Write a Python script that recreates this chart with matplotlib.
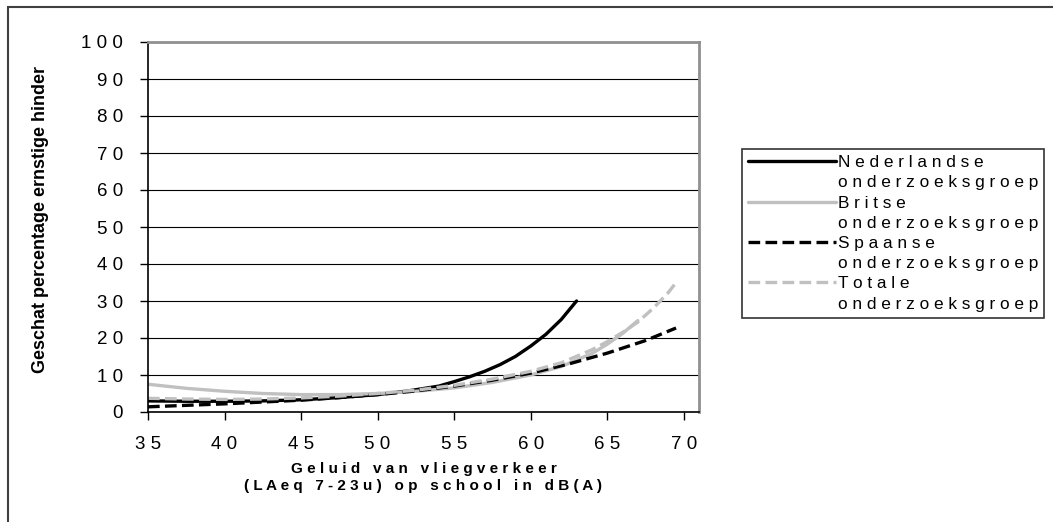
import matplotlib
matplotlib.use("Agg")
import matplotlib.pyplot as plt
from matplotlib.lines import Line2D
from matplotlib.patches import Rectangle

plt.rcParams['font.family'] = ['Liberation Sans', 'DejaVu Sans']

dutch_x = [35, 37.5, 40, 42.5, 45, 47.5, 50, 52, 54, 55, 56, 57, 58, 59, 60, 61, 62, 63]
dutch_y = [3.0, 2.9, 2.9, 3.0, 3.3, 3.9, 4.7, 5.7, 7.0, 8.2, 9.5, 11.0, 12.8, 15.0, 17.8, 21.0, 25.0, 30.0]

brits_x = [35, 37.5, 40, 42.5, 45, 47.5, 50, 52.5, 55, 57.5, 60, 62, 64, 65, 66, 67]
brits_y = [7.5, 6.4, 5.6, 5.0, 4.7, 4.7, 5.0, 5.6, 6.5, 8.0, 10.0, 12.3, 15.8, 18.3, 21.2, 24.7]

spaans_x = [35, 37.5, 40, 42.5, 45, 47.5, 50, 52.5, 55, 57.5, 60, 62.5, 65, 67.5, 69.5]
spaans_y = [1.4, 1.8, 2.2, 2.7, 3.2, 3.9, 4.7, 5.7, 7.0, 8.6, 10.5, 13.0, 15.9, 19.3, 22.7]

totaal_x = [35, 37.5, 40, 42.5, 45, 47.5, 50, 52.5, 55, 57.5, 60, 62, 64, 65, 66, 67, 68, 69, 69.5]
totaal_y = [3.7, 3.5, 3.4, 3.5, 3.8, 4.3, 5.0, 5.9, 7.2, 8.9, 11.0, 13.3, 16.8, 19.0, 21.5, 24.3, 28.0, 32.3, 35.0]

series_names = [("Nederlandse", "onderzoeksgroep"), ("Britse", "onderzoeksgroep"),
                ("Spaanse", "onderzoeksgroep"), ("Totale", "onderzoeksgroep")]
x_ticks = [35, 40, 45, 50, 55, 60, 65, 70]
y_ticks = [0, 10, 20, 30, 40, 50, 60, 70, 80, 90, 100]
x_title = ["Geluid van vliegverkeer", "(LAeq 7-23u) op school in dB(A)"]
y_title = "Geschat percentage ernstige hinder"


def spaced(s):
    return " ".join(s)


GREY = "#c0c0c0"
W, H = 1053, 522
fig = plt.figure(figsize=(W / 100, H / 100), dpi=100)
ax = fig.add_axes([148 / W, (H - 412) / H, 551 / W, 370 / H])

# outer chart border
fig.patches.append(Rectangle((8 / W, -0.1), 1.1, (H - 7) / H + 0.1, transform=fig.transFigure,
                             fill=False, edgecolor="#404040", lw=1.5))

lw = 2.4
dash = (3.5, 1.6)
l1, = ax.plot(dutch_x, dutch_y, color="black", lw=lw, solid_capstyle="round")
l2, = ax.plot(brits_x, brits_y, color=GREY, lw=lw, solid_capstyle="round")
l3, = ax.plot(spaans_x, spaans_y, color="black", lw=lw, dashes=dash, dash_capstyle="butt")
l4, = ax.plot(totaal_x, totaal_y, color=GREY, lw=lw, dashes=dash, dash_capstyle="butt")

ax.set_xlim(35, 71)
ax.set_ylim(0, 100)
ax.set_xticks(x_ticks, labels=[spaced(str(v)) for v in x_ticks])
ax.set_yticks(y_ticks, labels=[spaced(str(v)) for v in y_ticks])
ax.tick_params(axis="both", direction="out", length=6, width=1, color="black",
               labelsize=13.5, pad=12)
ax.tick_params(axis="x", pad=11)

ax.grid(axis="y", color="black", lw=0.8)
ax.set_axisbelow(True)
for side in ("left", "bottom"):
    ax.spines[side].set_color("black")
    ax.spines[side].set_linewidth(1.2)
for side in ("top", "right"):
    ax.spines[side].set_color("#909090")
    ax.spines[side].set_linewidth(2)

ax.set_xlabel(spaced(x_title[0]) + "\n" + spaced(x_title[1]), fontsize=11, fontweight="bold",
              linespacing=1.25, labelpad=7)
ax.set_ylabel(y_title, fontsize=13, fontweight="bold")
ax.yaxis.set_label_coords(-0.18, 0.52)

handles, labels = [], []
blank = Line2D([], [], color="none")
for line, (a, b) in zip([l1, l2, l3, l4], series_names):
    handles += [line, blank]
    labels += [spaced(a), spaced(b)]
leg = ax.legend(handles, labels, loc="upper left", bbox_to_anchor=(742 / W, 1 - 149 / H),
                bbox_transform=fig.transFigure, fontsize=12.4, frameon=True, fancybox=False,
                edgecolor="black", handlelength=5.1, handletextpad=0.1, labelspacing=0.3,
                borderpad=0.35, borderaxespad=0)
leg.get_frame().set_linewidth(1.2)

fig.savefig("out.png", dpi=100)
